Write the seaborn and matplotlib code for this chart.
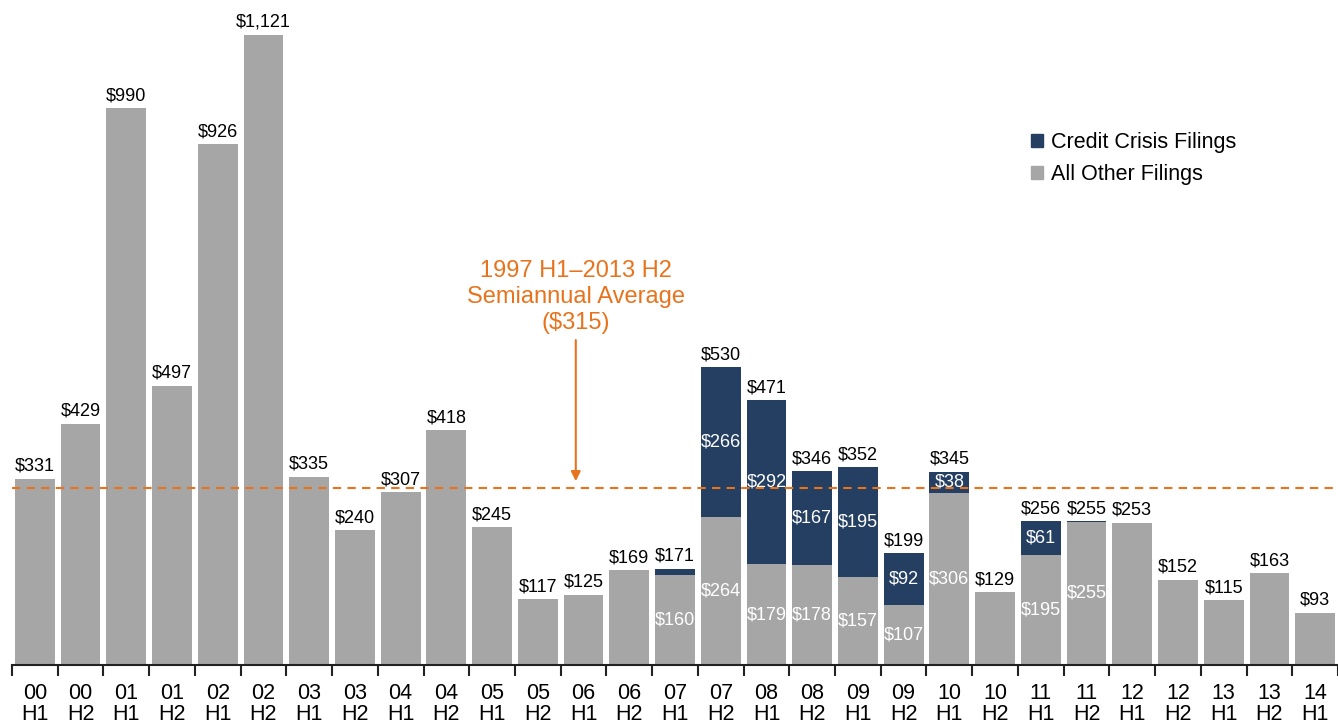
import matplotlib
matplotlib.use("Agg")
import matplotlib.pyplot as plt
import numpy as np
import pandas as pd
import seaborn as sns
from matplotlib.patches import Patch

PERIODS = [
    "00\nH1", "00\nH2", "01\nH1", "01\nH2", "02\nH1", "02\nH2", "03\nH1", "03\nH2",
    "04\nH1", "04\nH2", "05\nH1", "05\nH2", "06\nH1", "06\nH2", "07\nH1", "07\nH2",
    "08\nH1", "08\nH2", "09\nH1", "09\nH2", "10\nH1", "10\nH2", "11\nH1", "11\nH2",
    "12\nH1", "12\nH2", "13\nH1", "13\nH2", "14\nH1",
]
OTHER = [331, 429, 990, 497, 926, 1121, 335, 240, 307, 418, 245, 117, 125, 169,
         160, 264, 179, 178, 157, 107, 306, 129, 195, 255, 253, 152, 115, 163, 93]
CREDIT = [0, 0, 0, 0, 0, 0, 0, 0, 0, 0, 0, 0, 0, 0,
          11, 266, 292, 167, 195, 92, 38, 0, 61, 0.5, 0, 0, 0, 0, 0]
TOTAL_LABELS = [331, 429, 990, 497, 926, 1121, 335, 240, 307, 418, 245, 117, 125, 169,
                171, 530, 471, 346, 352, 199, 345, 129, 256, 255, 253, 152, 115, 163, 93]
# inner labels shown only on these periods
INNER_OTHER = ["07\nH1", "07\nH2", "08\nH1", "08\nH2", "09\nH1", "09\nH2", "10\nH1", "11\nH1", "11\nH2"]
INNER_CREDIT = ["07\nH2", "08\nH1", "08\nH2", "09\nH1", "09\nH2", "10\nH1", "11\nH1"]
AVERAGE = 315
AVG_TEXT = "1997 H1\u20132013 H2\nSemiannual Average\n($315)"

GRAY = "#A6A6A6"
NAVY = "#243F62"
ORANGE = "#E8731C"


def main():
    df = pd.DataFrame({"period": PERIODS, "other": OTHER, "credit": CREDIT,
                       "label": TOTAL_LABELS})
    df["total"] = df["other"] + df["credit"]
    df["navy"] = np.where(df["credit"] > 0, df["total"], 0)

    plt.rcParams["font.family"] = ["Liberation Sans", "DejaVu Sans"]
    fig = plt.figure(figsize=(13.38, 7.25), dpi=100)
    ax = fig.add_axes([12 / 1338, 60 / 725, 1326 / 1338, 665 / 725])

    sns.barplot(data=df, x="period", y="navy", color=NAVY, saturation=1,
                width=0.87, ax=ax)
    sns.barplot(data=df, x="period", y="other", color=GRAY, saturation=1,
                width=0.87, ax=ax)

    xs = np.arange(len(df))
    for i, row in df.iterrows():
        ax.text(i, row["total"] + 7, f"${row['label']:,}", ha="center", va="bottom",
                fontsize=13, color="black")
        if row["period"] in INNER_OTHER:
            ax.text(i, row["other"] / 2, f"${row['other']}", ha="center",
                    va="center", fontsize=13, color="white")
        if row["period"] in INNER_CREDIT:
            ax.text(i, row["other"] + row["credit"] / 2, f"${row['credit']:g}",
                    ha="center", va="center", fontsize=13, color="white")

    ax.axhline(AVERAGE, color=ORANGE, linestyle=(0, (4, 3)), linewidth=1.5)
    ax.annotate("", xy=(11.83, AVERAGE + 12), xytext=(11.83, AVERAGE + 263),
                arrowprops=dict(arrowstyle="-|>", color=ORANGE, lw=1.5,
                                mutation_scale=14, shrinkA=0, shrinkB=0))
    ax.text(11.83, AVERAGE + 274, AVG_TEXT, ha="center", va="bottom",
            fontsize=17, color=ORANGE, linespacing=1.22)

    handles = [Patch(color=NAVY, label="Credit Crisis Filings"),
               Patch(color=GRAY, label="All Other Filings")]
    fig.legend(handles=handles, loc="upper left", bbox_to_anchor=(1012 / 1338, 1 - 113 / 725),
               frameon=False, fontsize=15.5, handlelength=0.55, handleheight=0.55,
               handletextpad=0.35, labelspacing=0.5)

    ax.set_xlim(-0.5, 28.39)
    ax.set_ylim(0, 1183)
    ax.set_xlabel("")
    ax.set_ylabel("")
    ax.set_yticks([])
    for s in ["top", "right", "left"]:
        ax.spines[s].set_visible(False)
    ax.spines["bottom"].set_linewidth(1.5)
    ax.spines["bottom"].set_color("#222222")
    ax.set_xticks(xs)
    ax.set_xticklabels(PERIODS, fontsize=15.5, linespacing=1.0)
    ax.tick_params(axis="x", which="major", length=0, pad=13)
    ax.set_xticks(np.arange(-0.5, len(df), 1), minor=True)
    ax.tick_params(axis="x", which="minor", length=8, width=1.5, color="#222222")

    fig.savefig("out.png", dpi=100)


if __name__ == "__main__":
    main()
